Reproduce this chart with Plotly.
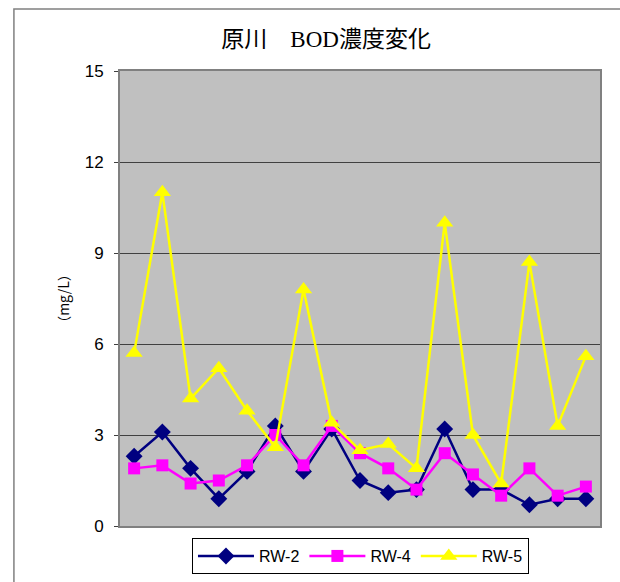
import plotly.graph_objects as go

points = list(range(1, 18))
rw2 = [2.3, 3.1, 1.9, 0.9, 1.8, 3.3, 1.8, 3.2, 1.5, 1.1, 1.2, 3.2, 1.2, 1.2, 0.7, 0.9, 0.9]
rw4 = [1.9, 2.0, 1.4, 1.5, 2.0, 3.0, 2.0, 3.3, 2.4, 1.9, 1.2, 2.4, 1.7, 1.0, 1.9, 1.0, 1.3]
rw5 = [5.7, 11.0, 4.2, 5.2, 3.8, 2.6, 7.8, 3.4, 2.5, 2.7, 1.9, 10.0, 3.0, 1.4, 8.7, 3.3, 5.6]
names = ["RW-2", "RW-4", "RW-5"]
y_ticks = [0, 3, 6, 9, 12, 15]

fig = go.Figure()
fig.add_trace(go.Scatter(x=points, y=rw2, name=names[0], mode="lines+markers",
                         line=dict(color="#000080", width=2.5),
                         marker=dict(symbol="diamond", size=13, color="#000080")))
fig.add_trace(go.Scatter(x=points, y=rw4, name=names[1], mode="lines+markers",
                         line=dict(color="#FF00FF", width=2.5),
                         marker=dict(symbol="square", size=12, color="#FF00FF")))
fig.add_trace(go.Scatter(x=points, y=rw5, name=names[2], mode="lines+markers",
                         line=dict(color="#FFFF00", width=2.5),
                         marker=dict(symbol="triangle-up", size=15, color="#FFFF00")))

fig.update_layout(
    width=620, height=582,
    margin=dict(l=120, r=20, t=71, b=56, autoexpand=False),
    paper_bgcolor="white",
    plot_bgcolor="#C0C0C0",
    title=dict(text="原川　BOD濃度変化", x=0.526, xref="container", xanchor="center",
               y=0.933, yref="container", yanchor="middle",
               font=dict(family="Liberation Serif, Noto Sans CJK JP", size=23, color="#000000")),
    xaxis=dict(range=[0.5, 17.5], showticklabels=False, showgrid=False, zeroline=False,
               showline=True, linecolor="#808080", linewidth=2, mirror=True, ticks=""),
    yaxis=dict(range=[0, 15], tickvals=y_ticks, ticktext=[str(v) for v in y_ticks],
               showgrid=True, gridcolor="#404040", gridwidth=1, zeroline=False,
               showline=True, linecolor="#808080", linewidth=2, mirror=True,
               ticks="outside", ticklen=4, tickcolor="#404040", ticklabelstandoff=7,
               tickfont=dict(family="Liberation Sans, Arial", size=17, color="#000000"),
               title=dict(text="（mg/L）", standoff=12,
                          font=dict(family="Noto Sans CJK JP", size=14, color="#000000"))),
    showlegend=True,
    legend=dict(orientation="h", x=0.501, xanchor="center", y=-0.066, yanchor="middle",
                bgcolor="white", bordercolor="#000000", borderwidth=1,
                font=dict(family="Liberation Sans, Arial", size=16, color="#000000"),
                itemwidth=56),
    shapes=[dict(type="rect", xref="paper", yref="paper", x0=-0.221, x1=1.2, y0=-0.3, y1=1.136,
                 line=dict(color="#808080", width=1.5), fillcolor="rgba(0,0,0,0)", layer="below")],
)

fig.write_html("out.html", config={"displayModeBar": False},
               post_script="document.body.style.margin='0';")
